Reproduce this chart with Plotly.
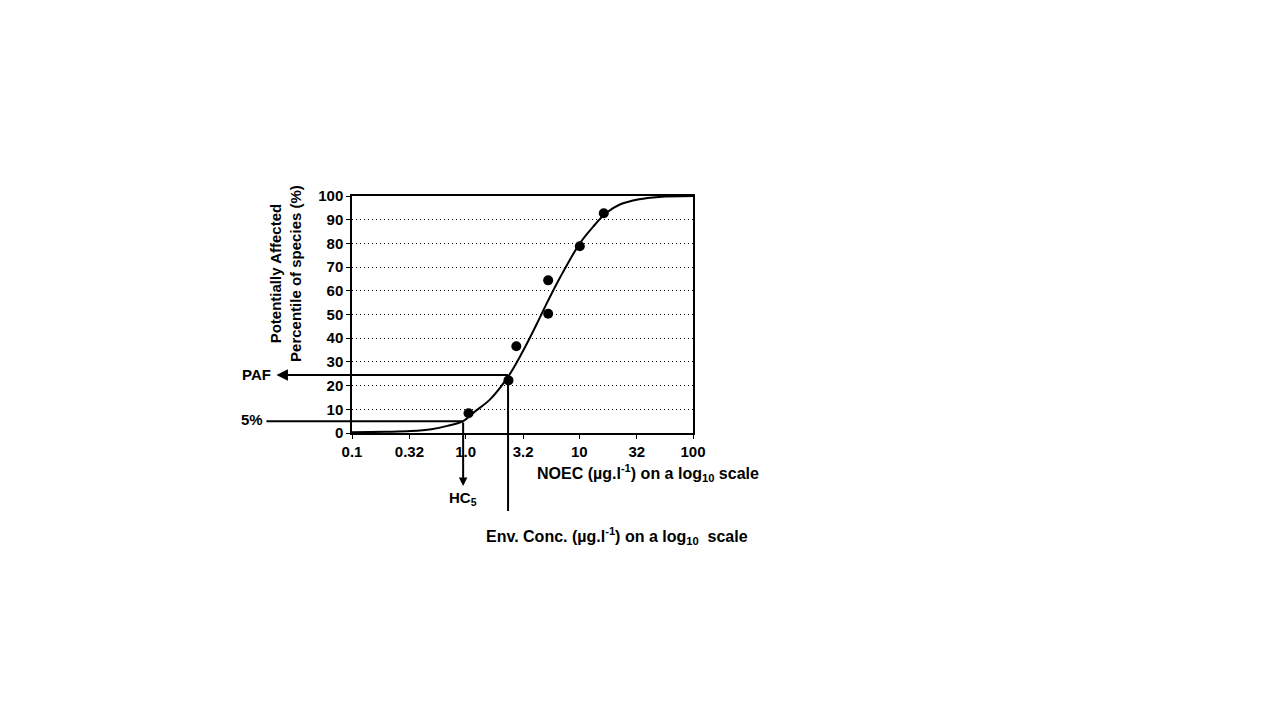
import math
import plotly.graph_objects as go

# observed NOEC values (ug/l) and their species percentiles
noec = [1.06, 2.38, 2.79, 5.32, 5.32, 10.1, 16.4]
percentile = [8.3, 22.2, 36.6, 50.3, 64.4, 78.8, 92.7]

# fitted SSD curve
curve_x = [0.1, 0.2, 0.33, 0.5, 0.69, 0.95, 1.2, 1.64, 2.38, 3.21, 4.22, 5.14, 6.75, 10.1, 13.2, 17.2, 22.5, 33.6, 50.5, 100]
curve_y = [0.3, 0.5, 0.8, 1.6, 3.0, 5.0, 9.0, 14.2, 24.0, 34.8, 46.0, 54.5, 65.5, 80.0, 87.0, 92.8, 96.3, 98.6, 99.6, 100]

tick_vals = [0.1, 0.32, 1.0, 3.2, 10, 32, 100]
tick_text = ["0.1", "0.32", "1.0", "3.2", "10", "32", "100"]

hc5 = 0.95
hc5_level = 5
env_conc = 2.36
paf = 24.5

FONT = "Liberation Sans, Arial, sans-serif"


def px(x):
    # log10 data value -> paper fraction (axis spans 0.1..100)
    return (math.log10(x) + 1) / 3


def py(y):
    return y / 100


fig = go.Figure()
fig.add_trace(go.Scatter(x=curve_x, y=curve_y, mode="lines", line=dict(color="black", width=2, shape="spline"),
                         hoverinfo="skip"))
fig.add_trace(go.Scatter(x=noec, y=percentile, mode="markers", marker=dict(color="black", size=10)))

# page body adds ~7px offset, so margins are trimmed to land the plot at 351..694 x 195..432
fig.update_layout(
    width=1280,
    height=720,
    margin=dict(l=344, r=595, t=188, b=295),
    paper_bgcolor="white",
    plot_bgcolor="white",
    showlegend=False,
    font=dict(family=FONT, size=15, color="black"),
)
fig.update_xaxes(type="log", range=[-1, 2], tickvals=tick_vals, ticktext=tick_text,
                 showline=True, linecolor="black", linewidth=1.5, mirror=True,
                 ticks="outside", ticklen=4, tickcolor="black", showgrid=False, zeroline=False,
                 tickfont=dict(family=FONT, size=15, weight="bold"))
fig.update_yaxes(range=[0, 100], dtick=10, showline=True, linecolor="black", linewidth=1.5, mirror=True,
                 ticks="outside", ticklen=4, tickcolor="black", showgrid=True, gridcolor="black",
                 griddash="1px,3px", gridwidth=1, zeroline=False,
                 tickfont=dict(family=FONT, size=15, weight="bold"))

line = dict(color="black", width=2)
# PAF: vertical from below the axis up to the curve, then horizontal arrow to the left
fig.add_shape(type="line", xref="paper", yref="paper", x0=px(env_conc), x1=px(env_conc),
              y0=-0.329, y1=py(paf), line=line)
fig.add_annotation(xref="paper", yref="paper", x=-0.2216, y=py(paf), ax=233, ay=0, text="",
                   showarrow=True, arrowhead=2, arrowsize=1.15, arrowwidth=2, arrowcolor="black")
# HC5: horizontal line at 5%, then down arrow
fig.add_shape(type="line", xref="paper", yref="paper", x0=-0.251, x1=px(hc5),
              y0=py(hc5_level), y1=py(hc5_level), line=line)
fig.add_annotation(xref="paper", yref="paper", x=px(hc5), y=-0.224, ax=0, ay=-65, text="",
                   showarrow=True, arrowhead=2, arrowsize=0.85, arrowwidth=2, arrowcolor="black")

bold = dict(family=FONT, size=15, color="black", weight="bold")
big = dict(family=FONT, size=16, color="black", weight="bold")
texts = [
    ("PAF", -0.233, py(paf), "right", bold),
    ("5%", -0.254, 0.059, "right", bold),
    ("HC<sub>5</sub>", px(hc5), -0.278, "center", bold),
    ("NOEC (µg.l<sup>-1</sup>) on a log<sub>10</sub> scale", 0.869, -0.169, "center", big),
    ("Env. Conc. (µg.l<sup>-1</sup>) on a log<sub>10</sub>  scale", 0.778, -0.435, "center", big),
]
for t, x, y, xa, f in texts:
    fig.add_annotation(xref="paper", yref="paper", x=x, y=y, text=t, showarrow=False,
                       xanchor=xa, yanchor="middle", font=f)

fig.add_annotation(xref="paper", yref="paper", x=-0.193, y=0.672, textangle=-90, showarrow=False,
                   xanchor="center", yanchor="middle",
                   text="Potentially Affected<br>Percentile of species (%)",
                   font=dict(family=FONT, size=15, color="black", weight="bold"))

fig.write_html("out.html")
